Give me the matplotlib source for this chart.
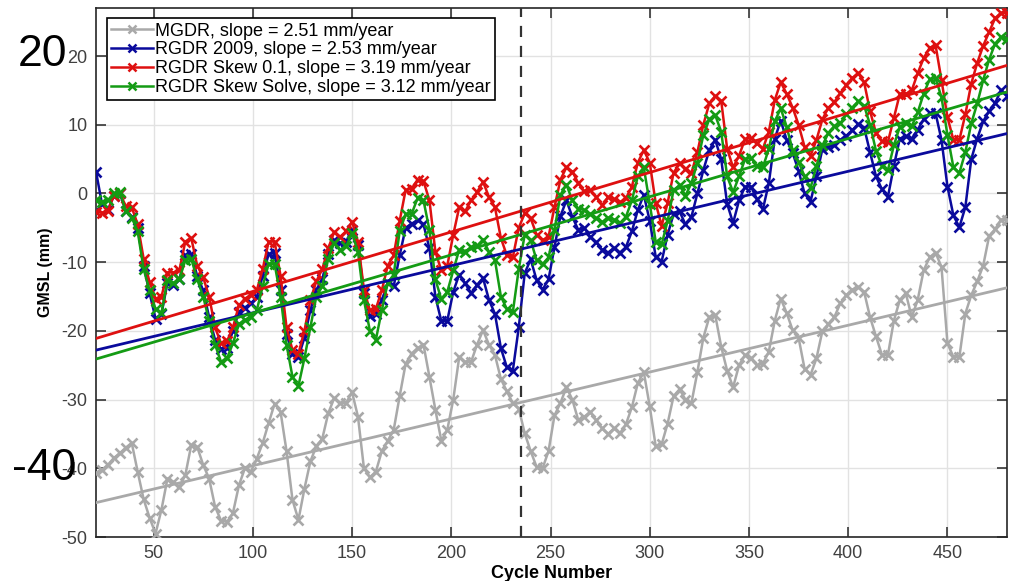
import numpy as np
import matplotlib
matplotlib.use("Agg")
import matplotlib.pyplot as plt
from matplotlib.lines import Line2D

plt.rcParams["font.family"] = ["Liberation Sans", "DejaVu Sans"]
plt.rcParams["axes.unicode_minus"] = False

# Cycle numbers (sampled every third cycle)
cycles = np.arange(21, 481, 3)

# Global mean sea level (mm) per product
mgdr = [
    -40.7, -40.2, -39.5, -38.5, -37.8, -37.0, -36.3, -40.5, -44.5, -47.2,
    -49.5, -46.0, -41.5, -42.0, -42.7, -41.0, -36.6, -36.9, -39.5, -41.5,
    -45.6, -47.6, -47.8, -46.5, -42.5, -40.0, -40.5, -38.6, -36.3, -33.4,
    -30.6, -31.8, -37.5, -44.6, -47.5, -43.0, -39.0, -36.8, -35.7, -32.0,
    -29.8, -30.5, -30.5, -28.9, -32.5, -40.0, -41.3, -40.5, -37.5, -36.0,
    -34.4, -29.5, -24.8, -23.3, -22.5, -22.0, -26.7, -31.5, -36.0, -34.4,
    -30.0, -23.8, -24.5, -24.5, -22.0, -19.9, -22.0, -23.5, -27.0, -28.8,
    -30.5, -31.3, -34.9, -37.5, -39.8, -40.0, -37.5, -32.3, -30.5, -28.2,
    -30.0, -33.0, -32.5, -31.8, -33.0, -34.2, -35.0, -34.2, -34.9, -33.6,
    -31.1, -27.6, -26.0, -31.0, -36.8, -36.5, -33.5, -29.5, -28.5, -30.0,
    -30.5, -26.0, -21.0, -18.0, -17.7, -22.3, -25.8, -28.2, -25.0, -23.5,
    -24.0, -25.0, -24.8, -23.0, -18.5, -15.3, -17.4, -19.9, -21.0, -25.5,
    -26.4, -24.0, -20.0, -19.0, -18.0, -16.0, -14.8, -14.0, -13.6, -14.3,
    -18.0, -20.8, -23.5, -23.5, -18.5, -15.5, -14.5, -18.0, -15.5, -11.2,
    -9.3, -8.6, -10.7, -21.8, -23.8, -23.8, -17.5, -14.8, -12.8, -10.5,
    -6.2, -5.2, -3.8, -3.9,
]

rgdr_2009 = [
    3.2, -1.5, -2.4, -0.3, 0.0, -2.5, -3.4, -5.0, -10.5, -14.5,
    -18.2, -17.5, -13.0, -13.3, -12.5, -9.0, -8.8, -12.0, -14.1, -18.0,
    -21.3, -22.6, -22.5, -20.0, -17.2, -16.6, -16.0, -15.1, -12.0, -8.8,
    -8.7, -14.0, -20.5, -23.3, -23.8, -21.0, -17.0, -14.0, -12.5, -8.8,
    -6.8, -7.2, -7.0, -5.3, -7.5, -14.5, -17.8, -17.6, -15.5, -13.1,
    -13.5, -9.0, -5.0, -4.4, -3.9, -4.5, -8.0, -15.0, -18.6, -18.5,
    -14.3, -11.8, -13.1, -14.5, -13.3, -12.3, -15.5, -17.5, -22.5, -25.3,
    -25.8, -19.5, -11.6, -9.6, -12.6, -14.0, -12.5, -7.8, -3.3, -1.0,
    -3.4, -5.3, -5.0, -6.3, -7.1, -8.2, -8.6, -7.9, -8.6, -7.8,
    -5.5, -2.4, -0.2, -4.0, -9.2, -9.9, -6.0, -3.0, -2.6, -4.5,
    -3.4, 0.0, 3.4, 6.3, 7.8, 5.0, -1.5, -4.3, -1.0, 1.0,
    1.0, -0.8, -2.3, 1.5, 8.0, 10.6, 7.8, 5.9, 3.3, 0.0,
    -1.2, 2.5, 6.5, 6.8, 7.0, 7.8, 8.4, 9.2, 10.1, 9.6,
    6.0, 2.5, 0.6, -0.5, 4.0, 8.0, 8.3, 8.0, 9.3, 10.8,
    11.7, 11.7, 7.8, 1.0, -3.2, -4.9, -2.0, 5.0, 8.0, 10.5,
    12.0, 13.2, 15.0, 14.2,
]

rgdr_skew_01 = [
    -2.7, -2.8, -2.5, -0.3, 0.0, -1.8, -2.0, -4.5, -9.5, -12.9,
    -15.3, -15.0, -11.5, -11.5, -11.2, -7.0, -6.5, -10.5, -12.2, -15.0,
    -19.5, -21.8, -21.5, -19.5, -16.3, -15.3, -14.8, -14.1, -11.0, -7.0,
    -7.0, -12.0, -19.5, -22.8, -23.3, -20.0, -15.5, -12.8, -11.0, -8.0,
    -5.6, -6.3, -5.5, -4.1, -7.0, -14.0, -17.0, -16.8, -14.1, -10.5,
    -9.0, -4.0, 0.5, 0.7, 2.0, 1.8, -1.0, -8.5, -11.2, -10.5,
    -6.0, -2.0, -2.6, -1.0, 0.2, 1.7, -0.5, -2.0, -6.5, -9.0,
    -9.3, -5.0, -2.9, -3.6, -6.0, -6.8, -6.3, -2.0, 2.0, 3.8,
    3.2, 1.5, 0.3, 0.5, -0.5, -1.7, -0.5, -0.8, -1.3, -0.7,
    1.0, 4.5, 6.3, 4.5, -1.4, -4.7, -1.4, 3.0, 4.4, 3.5,
    3.0, 6.0, 10.0, 13.1, 14.2, 13.5, 6.5, 3.8, 5.5, 7.9,
    8.1, 7.3, 6.5, 9.0, 13.6, 16.2, 14.5, 12.5, 10.0, 6.8,
    5.5, 7.8, 10.8, 12.5, 13.3, 14.6, 15.8, 16.8, 17.5, 16.2,
    12.0, 8.8, 7.6, 7.5, 11.0, 14.5, 14.5, 15.0, 17.5, 19.7,
    21.2, 21.6, 16.5, 11.1, 7.8, 7.8, 11.5, 16.0, 19.0, 21.5,
    23.5, 25.5, 26.3, 26.3,
]

rgdr_skew_solve = [
    -1.0, -1.2, -1.0, 0.0, 0.2, -2.5, -3.5, -5.5, -11.0, -14.1,
    -16.8, -17.4, -12.6, -13.0, -12.5, -9.7, -9.5, -12.5, -15.0, -18.5,
    -22.0, -24.5, -24.0, -21.8, -19.0, -18.4, -18.0, -17.0, -13.5, -10.2,
    -10.3, -15.0, -22.0, -26.7, -28.0, -24.0, -19.5, -15.0, -13.5, -9.5,
    -7.2, -8.2, -7.7, -5.8, -8.5, -15.5, -20.0, -21.3, -17.0, -13.0,
    -11.8, -5.5, -3.0, -3.0, -0.7, -1.0, -5.3, -12.5, -15.4, -14.3,
    -11.2, -8.2, -8.5, -7.8, -7.6, -6.7, -8.5, -9.7, -15.0, -16.8,
    -17.3, -11.0, -6.0, -6.8, -9.7, -10.3, -9.3, -5.3, -0.2, 1.3,
    -1.0, -2.2, -2.4, -3.0, -3.6, -4.2, -3.5, -3.8, -4.3, -3.4,
    -1.0, 2.5, 3.8, -1.5, -7.0, -7.4, -4.0, 0.5, 1.2, -0.3,
    1.5, 4.5, 8.5, 10.8, 11.4, 9.0, 2.5, 0.2, 2.5, 5.0,
    5.2, 4.0, 3.8, 6.5, 10.5, 12.4, 9.7, 6.3, 4.6, 2.5,
    0.8, 4.0, 7.0, 8.8, 9.8, 10.2, 11.5, 12.5, 13.4, 12.8,
    10.0, 6.2, 4.0, 3.4, 7.0, 9.7, 10.2, 9.8, 11.8, 14.5,
    16.6, 16.8, 14.0, 8.5, 3.8, 3.0, 6.0, 10.2, 13.1, 16.5,
    19.5, 21.8, 22.8, 22.5,
]

# Trend: slope in mm/year and level (mm) at the first cycle
names = ["MGDR", "RGDR 2009", "RGDR Skew 0.1", "RGDR Skew Solve"]
slopes = [2.51, 2.53, 3.19, 3.12]
trend_start = [-45.0, -22.8, -21.1, -24.1]
colors = ["#a9a9a9", "#0a0a9c", "#de1010", "#149b14"]

CYCLE_DAYS = 9.9156
split_cycle = 235

xticks = list(range(50, 451, 50))
yticks = list(range(-50, 21, 10))

W, H = 1015, 581
fig = plt.figure(figsize=(W / 100, H / 100), dpi=100)
ax = fig.add_axes([96 / W, 1 - 537 / H, (1007 - 96) / W, (537 - 8) / H])

series = [mgdr, rgdr_2009, rgdr_skew_01, rgdr_skew_solve]
for vals, col in zip(series, colors):
    ax.plot(cycles, vals, color=col, lw=1.8, marker="x", ms=6.5, mew=1.9,
            zorder=3)

x0, x1 = 21, 480
for s, b, col in zip(slopes, trend_start, colors):
    per_cycle = s * CYCLE_DAYS / 365.25
    xs = np.array([x0, x1])
    ax.plot(xs, b + per_cycle * (xs - x0), color=col, lw=2.0, zorder=4)

ax.axvline(split_cycle, color="#333333", lw=1.6, ls=(0, (5, 4)), zorder=5)

ax.set_xlim(x0, x1)
ax.set_ylim(-50, 27)
ax.set_xticks(xticks)
ax.set_yticks(yticks)
ax.grid(True, color="#e2e2e2", lw=1.0, zorder=0)
ax.set_axisbelow(True)
for sp in ax.spines.values():
    sp.set_color("#262626")
    sp.set_linewidth(1.2)
ax.tick_params(direction="in", length=7, width=1.1, top=True, right=True,
               labelsize=13, labelcolor="#404040", color="#262626", pad=6)

ax.set_xlabel("Cycle Number", fontsize=13, fontweight="bold", labelpad=2)
ax.set_ylabel("GMSL (mm)", fontsize=11.5, fontweight="bold", labelpad=6)

handles = [Line2D([], [], color=c, lw=1.8, marker="x", ms=6, mew=1.8)
           for c in colors]
labels = [f"{n}, slope = {s:.2f} mm/year" for n, s in zip(names, slopes)]
leg = ax.legend(handles, labels, loc="upper left",
                bbox_to_anchor=(0.012, 0.981), borderaxespad=0,
                fontsize=13, labelspacing=0.1, handlelength=2.3,
                handletextpad=0.1, borderpad=0.25, fancybox=False,
                framealpha=1, edgecolor="black")
leg.get_frame().set_linewidth(1.2)
leg.set_zorder(10)

fig.text(43 / W, 1 - 55 / H, "20", fontsize=32, ha="center", va="center")
fig.text(44 / W, 1 - 468 / H, "-40", fontsize=32, ha="center", va="center")

fig.savefig("out.png", dpi=100)
